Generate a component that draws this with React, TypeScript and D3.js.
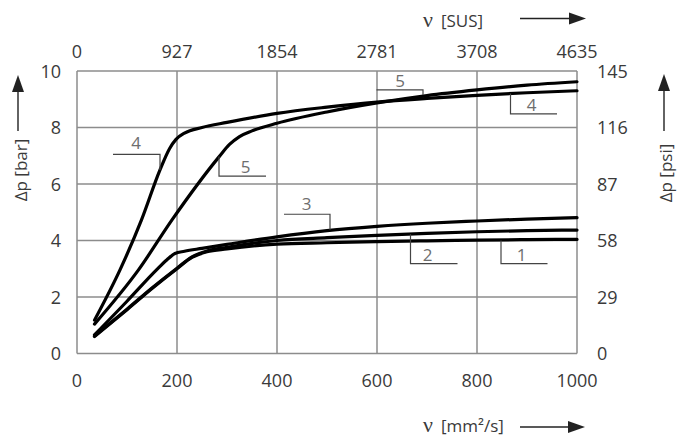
import * as d3 from 'd3'

// viscosity in mm²/s, pressure drop in bar
const nu1 = [35, 100, 150, 200, 230, 260, 300, 400, 500, 600, 700, 800, 900, 1000]
const dp1 = [0.6, 1.55, 2.3, 3.0, 3.4, 3.6, 3.7, 3.87, 3.92, 3.96, 3.99, 4.01, 4.03, 4.04]

const nu2 = [35, 100, 150, 200, 230, 260, 300, 400, 500, 600, 700, 800, 900, 1000]
const dp2 = [0.62, 1.57, 2.32, 3.02, 3.42, 3.63, 3.76, 4.0, 4.1, 4.18, 4.25, 4.31, 4.35, 4.37]

const nu3 = [35, 100, 159, 180, 196, 215, 250, 300, 400, 500, 600, 700, 800, 900, 1000]
const dp3 = [0.66, 1.85, 2.96, 3.32, 3.54, 3.62, 3.72, 3.86, 4.13, 4.35, 4.5, 4.61, 4.69, 4.76, 4.81]

const nu4 = [35, 86, 129, 166, 185, 198, 215, 250, 300, 400, 500, 600, 700, 800, 900, 1000]
const dp4 = [1.18, 2.96, 4.73, 6.5, 7.25, 7.58, 7.8, 8.0, 8.18, 8.5, 8.72, 8.9, 9.03, 9.14, 9.23, 9.3]

const nu5 = [35, 123, 190, 284, 305, 325, 350, 400, 500, 600, 700, 800, 900, 1000]
const dp5 = [1.04, 2.96, 4.73, 6.96, 7.4, 7.68, 7.88, 8.15, 8.55, 8.87, 9.13, 9.33, 9.5, 9.62]

const barTicks = [0, 2, 4, 6, 8, 10]
const psiTicks = [0, 29, 58, 87, 116, 145]
const nuTicks = [0, 200, 400, 600, 800, 1000]
const susTicks = [0, 927, 1854, 2781, 3708, 4635]

// curve labels: leader line (nu, dp) and text anchor
const labelNames = ['4', '5', '3', '5', '4', '2', '1']
const labelLeaders = [
  [[72, 7.05], [166, 7.05], [166, 6.5]],
  [[284, 6.97], [284, 6.28], [378, 6.28]],
  [[414, 4.93], [506, 4.93], [506, 4.38]],
  [[599, 9.33], [692, 9.33], [692, 9.15]],
  [[867, 9.2], [867, 8.48], [960, 8.48]],
  [[667, 4.22], [667, 3.18], [761, 3.18]],
  [[848, 4.0], [848, 3.18], [941, 3.18]],
]
const labelAt = [
  [118, 7.23],
  [337, 6.39],
  [459, 5.08],
  [646, 9.43],
  [909, 8.58],
  [701, 3.27],
  [889, 3.27],
]

const series = [
  { nu: nu1, dp: dp1 },
  { nu: nu2, dp: dp2 },
  { nu: nu3, dp: dp3 },
  { nu: nu4, dp: dp4 },
  { nu: nu5, dp: dp5 },
]

const width = 690
const height = 439
const left = 77
const right = 577
const top = 71
const bottom = 353.5

const font = '"Open Sans", sans-serif'
const grid = '#8c8c8c'
const txt = '#3a3a3a'
const nuFont = '"Liberation Serif", serif'

const Arrow = ({ x1, y1, x2, y2 }) => {
  // line with a filled head at (x2, y2)
  const a = Math.atan2(y2 - y1, x2 - x1)
  const len = 17
  const w = 6
  const bx = x2 - len * Math.cos(a)
  const by = y2 - len * Math.sin(a)
  const px = -Math.sin(a) * w
  const py = Math.cos(a) * w
  return (
    <g>
      <line x1={x1} y1={y1} x2={bx} y2={by} stroke="#222" strokeWidth={1.4} />
      <path d={`M${x2},${y2}L${bx + px},${by + py}L${bx - px},${by - py}Z`} fill="#222" />
    </g>
  )
}

const App = () => {
  const x = d3.scaleLinear().domain([0, 1000]).range([left, right])
  const y = d3.scaleLinear().domain([0, 10]).range([bottom, top])
  const xSus = d3.scaleLinear().domain([0, 4635]).range([left, right])
  const yPsi = d3.scaleLinear().domain([0, 145]).range([bottom, top])

  const line = d3.line<number>().curve(d3.curveMonotoneX)

  return (
    <svg
      width={width}
      height={height}
      style={{ position: 'absolute', left: 0, top: 0, display: 'block', background: '#fff' }}
      fontFamily={font}
    >
      {/* grid */}
      {nuTicks.map((t) => (
        <line key={'gx' + t} x1={x(t)} x2={x(t)} y1={top} y2={bottom} stroke={grid} strokeWidth={1.5} />
      ))}
      {barTicks.map((t) => (
        <line key={'gy' + t} x1={left} x2={right} y1={y(t)} y2={y(t)} stroke={grid} strokeWidth={1.5} />
      ))}

      {/* curves */}
      {series.map((s, i) => (
        <path
          key={'s' + i}
          d={line.x((_, j) => x(s.nu[j])).y((d) => y(d))(s.dp) || ''}
          fill="none"
          stroke="#000"
          strokeWidth={3.2}
          strokeLinecap="round"
          strokeLinejoin="round"
        />
      ))}

      {/* curve labels */}
      {labelLeaders.map((pts, i) => (
        <g key={'l' + i}>
          <polyline
            points={pts.map((p) => `${x(p[0])},${y(p[1])}`).join(' ')}
            fill="none"
            stroke="#444"
            strokeWidth={1.2}
          />
          <text x={x(labelAt[i][0])} y={y(labelAt[i][1])} textAnchor="middle" fontSize={17} fill="#6e6e6e">
            {labelNames[i]}
          </text>
        </g>
      ))}

      {/* left axis */}
      {barTicks.map((t) => (
        <text key={'yl' + t} x={61} y={y(t) + 6.5} textAnchor="end" fontSize={18} fill={txt}>
          {t}
        </text>
      ))}
      {/* right axis */}
      {psiTicks.map((t) => (
        <text key={'yr' + t} x={597} y={yPsi(t) + 6.5} textAnchor="start" fontSize={18} fill={txt}>
          {t}
        </text>
      ))}
      {/* bottom axis */}
      {nuTicks.map((t) => (
        <text key={'xb' + t} x={x(t)} y={387} textAnchor="middle" fontSize={18} fill={txt}>
          {t}
        </text>
      ))}
      {/* top axis */}
      {susTicks.map((t) => (
        <text key={'xt' + t} x={xSus(t)} y={58} textAnchor="middle" fontSize={18} fill={txt}>
          {t}
        </text>
      ))}

      {/* axis titles */}
      <text transform="translate(27,170) rotate(-90)" textAnchor="middle" fontSize={17} fill={txt}>
        Δp [bar]
      </text>
      <Arrow x1={18} y1={131} x2={18} y2={75} />
      <text transform="translate(672,173) rotate(-90)" textAnchor="middle" fontSize={17} fill={txt}>
        Δp [psi]
      </text>
      <Arrow x1={664} y1={131} x2={664} y2={74} />

      <text x={423} y={27} fontSize={17} fill={txt}>
        <tspan fontFamily={nuFont} fontSize={22}>ν</tspan>
        <tspan dx={8}>[SUS]</tspan>
      </text>
      <Arrow x1={520} y1={18.5} x2={586} y2={18.5} />

      <text x={423} y={432} fontSize={17} fill={txt}>
        <tspan fontFamily={nuFont} fontSize={22}>ν</tspan>
        <tspan dx={8}>[mm²/s]</tspan>
      </text>
      <Arrow x1={520} y1={427} x2={585} y2={427} />
    </svg>
  )
}

export default App
